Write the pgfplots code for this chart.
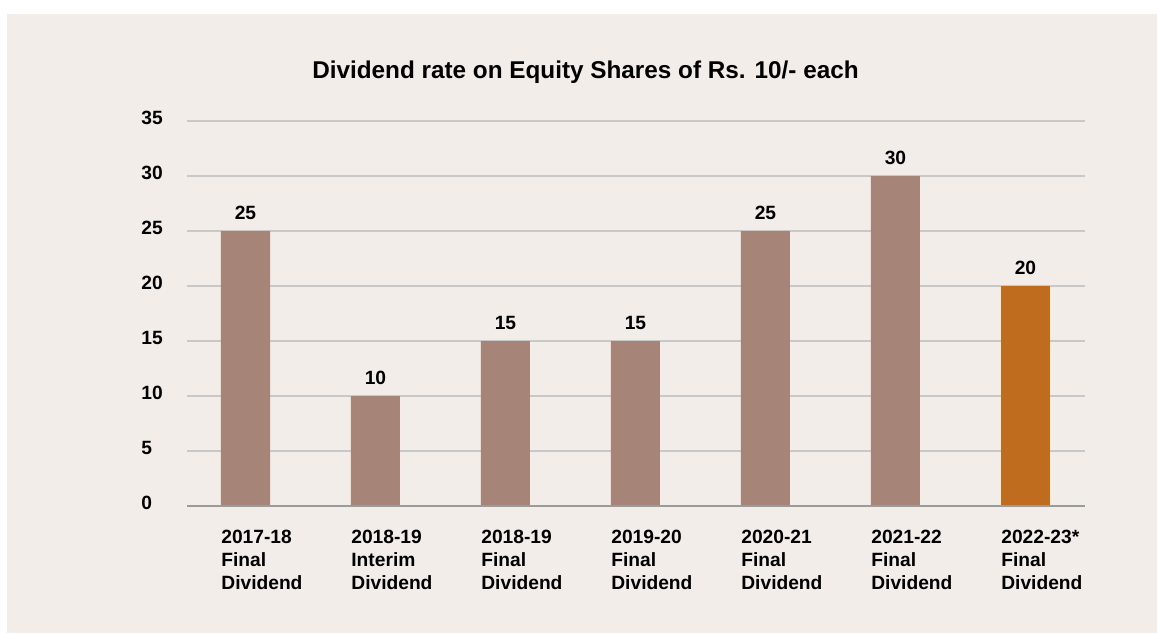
\documentclass[border=0pt]{standalone}
\usepackage{fontspec}
\setmainfont{Liberation Sans}
\usepackage{pgfplots}
\pgfplotsset{compat=1.18}
\definecolor{bg}{RGB}{242,237,233}
\definecolor{barbrown}{RGB}{166,133,120}
\definecolor{barorange}{RGB}{192,108,30}
\definecolor{gridgray}{RGB}{200,200,200}
\definecolor{basegray}{RGB}{155,155,155}
\newcommand{\lbl}{\bfseries\fontsize{9.6}{11.5}\selectfont}
\begin{document}
\begin{tikzpicture}
\fill[white] (0,0) rectangle (578.5pt,316.5pt);
\fill[bg] (3.5pt,0) rectangle (578.5pt,309.5pt);
\node[font=\bfseries\fontsize{12.15}{14}\selectfont, inner sep=0] at (292.75pt,280.5pt) {Dividend rate on Equity Shares of Rs. 10/- each};
\begin{axis}[
  at={(93.5pt,63.5pt)}, anchor=south west,
  scale only axis, width=449pt, height=192.5pt,
  xmin=-0.45, xmax=6.458, ymin=0, ymax=35,
  axis line style={draw=none}, major tick length=0pt,
  ytick={0,5,...,35}, ymajorgrids, grid style={gridgray, line width=0.65pt},
  xtick={0,...,6},
  xticklabels={{2017-18\\Final\\Dividend},{2018-19\\Interim\\Dividend},{2018-19\\Final\\Dividend},{2019-20\\Final\\Dividend},{2020-21\\Final\\Dividend},{2021-22\\Final\\Dividend},{2022-23*\\Final\\Dividend}},
  xticklabel style={align=left, anchor=north west, inner sep=0pt, xshift=-12.25pt, yshift=-12pt},
  yticklabel style={anchor=west, inner sep=0pt, xshift=-23pt, yshift=1.5pt},
  ticklabel style={font=\lbl, text=black},
  /pgf/number format/assume math mode=true,
  ybar, bar width=0.377,
  nodes near coords,
  nodes near coords style={font=\lbl, anchor=south, inner sep=0pt, yshift=5.5pt, text=black},
]
\addplot[fill=barbrown, draw=none, bar shift=0pt] coordinates {(0,25) (1,10) (2,15) (3,15) (4,25) (5,30)};
\addplot[fill=barorange, draw=none, bar shift=0pt] coordinates {(6,20)};
\draw[basegray, line width=1.2pt] (rel axis cs:0,0) -- (rel axis cs:1,0);
\end{axis}
\end{tikzpicture}
\end{document}
